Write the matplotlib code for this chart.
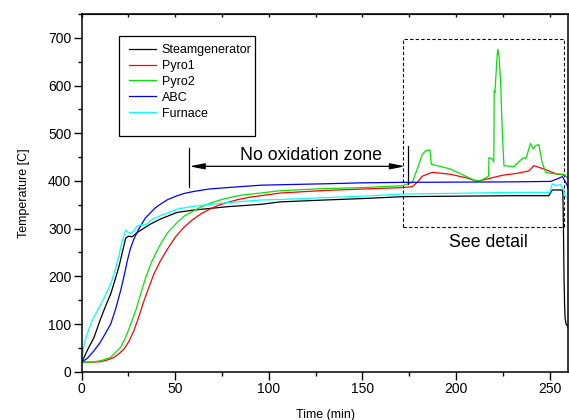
"""
plot.py

temperature log of the furnace run, recreated with matplotlib
"""
import matplotlib
matplotlib.use("Agg")
import matplotlib.pyplot as plt
from matplotlib.patches import Rectangle
from matplotlib.ticker import MultipleLocator

plt.rcParams['font.family'] = ['Liberation Sans', 'DejaVu Sans']

# data ------------------------------------------------------------------------
steam_t = [0, 1.5, 3, 5, 6.6, 10, 13, 15.5, 18, 20, 22, 23.5, 25, 27, 29.7,
           33.3, 37, 42, 51, 60, 78, 96, 106, 130, 150, 171.5, 200, 230,
           249.6, 251.4, 256.8, 257.1, 257.4, 257.7, 258.0, 258.3, 258.8,
           259.5, 261]
steam_T = [20, 32, 45, 60, 72, 110, 140, 163, 195, 222, 255, 280, 284, 283,
           292, 301, 310, 320, 334, 339, 346, 351, 356, 360, 363, 367, 368,
           369, 369, 381, 381, 370, 300, 200, 140, 112, 100, 96, 95]

pyro1_t = [0, 5, 10.1, 14, 17.3, 20, 22.6, 25, 27.9, 30.5, 33.3, 36, 38.6, 42,
           45.8, 50, 54.6, 59, 63.6, 68, 72.5, 78, 83.2, 90, 95.6, 106, 130,
           150, 171.5, 176.6, 179.3, 182, 187.3, 197, 206, 211.4, 217.6,
           225, 232.7, 239, 241.6, 247, 254, 256.8, 261]
pyro1_T = [20, 20, 21, 25, 30, 38, 47.5, 62, 86, 115, 149, 178, 205, 232, 257,
           282, 302.5, 318, 330.6, 340, 348, 355, 360.6, 366, 369, 374.6, 380,
           383, 386, 388, 397, 410, 418, 414, 406, 399, 405, 412, 416, 421,
           432, 425, 414, 413, 405]

pyro2_t = [0, 5, 10.1, 15.5, 20.8, 23.5, 26.2, 29, 31.5, 34, 36.9, 39.5, 42.2,
           46, 51.1, 55, 60, 64, 68.9, 73, 77.8, 85, 95.6, 106, 130, 150,
           171.5, 176.6, 179.3, 182, 183.8, 186.1, 186.8, 190, 197, 204,
           209.5, 211.4, 214, 217.4, 217.6, 219.4, 220.2, 220.4, 220.8, 221.0,
           222.0, 222.4, 223.0, 223.8, 224.7, 225.6, 231, 235.4, 236.5, 237.4,
           239.8, 241.3, 242.5, 244.3, 246, 247.9, 252, 257.7, 261]
pyro2_T = [20, 20, 23, 30, 51, 72, 100, 130, 163, 195, 226, 248, 268, 292,
           313, 327, 337.5, 346, 353.6, 359, 364, 370, 374.6, 379.5, 384, 386,
           390, 397, 425, 456, 463, 465, 435, 432, 425, 412, 402, 400, 402,
           410, 449, 446, 440, 589, 585, 600, 665, 676, 660, 610, 505, 432,
           430, 447, 449, 447, 479, 467, 474, 476, 439, 418, 415, 414, 400]

abc_t = [0, 3, 6.6, 10, 15.5, 18, 20.8, 22.6, 24.4, 26, 27.9, 29.7, 31.5, 34,
         36.9, 39.5, 42.2, 46, 51.1, 55, 60, 68, 77.8, 95.6, 106, 130, 150,
         171.5, 200, 230, 250.5, 254, 256.8, 258.5, 260, 261]
abc_T = [20, 28, 44, 62, 100, 130, 170, 200, 233, 258, 278, 293, 306, 322,
         334, 344, 351.6, 361, 369, 374, 378, 383, 386, 391, 392, 394, 396,
         397, 397.5, 398, 399, 404, 409, 398, 385, 380]

furnace_t = [0, 0.5, 1, 1.6, 3, 4.8, 6.5, 8.4, 10, 12, 15.5, 18, 20, 21.7, 23,
             23.5, 24.5, 26.2, 28, 29.5, 31.5, 34.2, 36, 37.8, 42, 46, 51.1,
             60, 68.9, 80, 95.6, 106, 130, 150, 171.5, 200, 230, 250.2, 251.4,
             254, 255.9, 257, 258.5, 261]
furnace_T = [20, 35, 50, 62, 80, 100, 115, 128, 140, 155, 184, 215, 245, 275,
             290, 297, 293, 290, 296, 305, 308, 308, 314, 320, 327, 333, 341,
             347, 351, 355, 360, 361, 365, 368, 372.5, 374, 376, 376, 393.5,
             390, 393, 385, 368, 360]

series = [("Steamgenerator", steam_t, steam_T, "black"),
          ("Pyro1", pyro1_t, pyro1_T, "#ff0000"),
          ("Pyro2", pyro2_t, pyro2_T, "#00e600"),
          ("ABC", abc_t, abc_T, "#0000ff"),
          ("Furnace", furnace_t, furnace_T, "#00ffff")]

# figure ----------------------------------------------------------------------
fig = plt.figure(figsize=(5.69, 4.2), dpi=100)
ax = fig.add_axes([0.1436, 0.115, 0.8552, 0.8517])

for label, t, T, color in series:
    ax.plot(t, T, color=color, linewidth=0.9, label=label)

ax.set_xlim(0, 260)
ax.set_ylim(0, 750)
ax.xaxis.set_major_locator(MultipleLocator(50))
ax.xaxis.set_minor_locator(MultipleLocator(25))
ax.yaxis.set_major_locator(MultipleLocator(100))
ax.yaxis.set_minor_locator(MultipleLocator(50))
ax.tick_params(which='major', direction='out', length=5.5, width=1,
               labelsize=10, pad=2)
ax.tick_params(which='minor', direction='out', length=3, width=1)
for s in ax.spines.values():
    s.set_linewidth(1.1)

top = ax.secondary_xaxis('top')
top.xaxis.set_major_locator(MultipleLocator(25))
top.tick_params(direction='in', length=2, width=1, labeltop=False)

ax.set_xlabel("Time (min)", fontsize=9, labelpad=9)
ax.set_ylabel("Temperature [C]", fontsize=9, labelpad=13)

# legend with a hand drawn box ------------------------------------------------
ax.add_patch(Rectangle((0.0773, 0.659), 0.2789, 0.2796,
                       transform=ax.transAxes, fill=False,
                       edgecolor='black', linewidth=0.9, zorder=5))
ax.legend(loc='upper left', bbox_to_anchor=(0.098, 0.916), frameon=False,
          fontsize=9, handlelength=2.1, handletextpad=0.5,
          labelspacing=0.31, borderpad=0, borderaxespad=0)

# no oxidation zone marker ----------------------------------------------------
ax.plot([57.2, 57.2], [388, 470], color='black', linewidth=0.9)
ax.plot([174.1, 174.1], [393, 474], color='black', linewidth=0.9)
ax.annotate('', xy=(57.6, 430.6), xytext=(172.8, 430.6),
            arrowprops=dict(arrowstyle='<|-|>,head_length=0.9,head_width=0.18',
                            color='black', linewidth=0.9,
                            shrinkA=0, shrinkB=0))
ax.text(122.3, 443, "No oxidation zone", fontsize=12.8, ha='center',
        va='baseline')

# detail box --------------------------------------------------------------------
ax.add_patch(Rectangle((171.6, 304), 257.6 - 171.6, 697.5 - 304, fill=False,
                       edgecolor='black', linestyle=(0, (3, 2)),
                       linewidth=0.8))
ax.text(217.5, 261.7, "See detail", fontsize=12.8, ha='center',
        va='baseline')

fig.savefig("out.png", dpi=100)
